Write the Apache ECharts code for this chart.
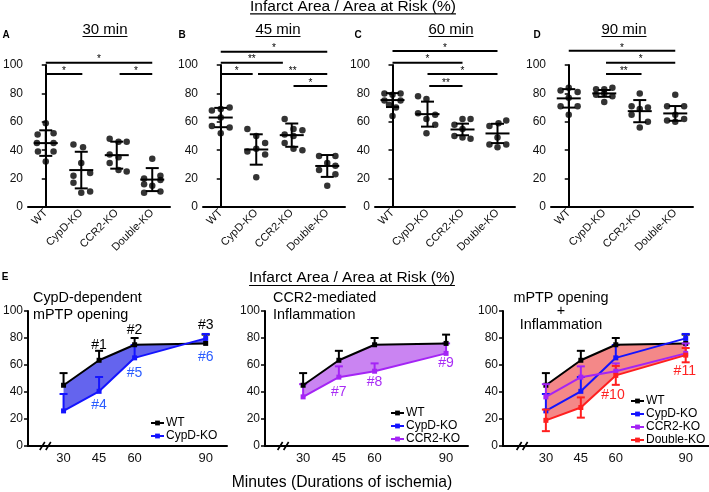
<!DOCTYPE html>
<html><head><meta charset="utf-8">
<script src="https://cdn.jsdelivr.net/npm/echarts@6/dist/echarts.min.js"></script>
<style>html,body{margin:0;padding:0;background:#fff}#c{width:709px;height:492px}</style>
</head><body><div id="c"></div>
<script>
const FONT = '"Liberation Sans", Arial, Helvetica, sans-serif';

// ---------- data ----------
const categories = ['WT', 'CypD-KO', 'CCR2-KO', 'Double-KO'];
const timeTitles = ['30 min', '45 min', '60 min', '90 min'];
const panelLetters = ['A', 'B', 'C', 'D'];

// individual animals: [group index + jitter, infarct %]
const dots30 = [
  [0,59],[-0.23,51],[0.22,52],[-0.25,45],[0.22,45],[-0.22,39],[0.22,39],[0,32],
  [0.78,44],[1.05,42],[1.0,31],[1.25,24],[0.78,22],[0.78,17],[1.0,10],[1.25,11],
  [1.8,48],[2.05,46],[2.28,46],[1.8,37],[2.05,35],[1.8,31],[2.05,26],[2.28,25],
  [3,34],[3.23,22],[2.77,20],[3.23,19],[2.77,16],[3.0,15],[3.23,11],[2.77,10]
];
const dots45 = [
  [-0.25,68],[0,69],[0.25,70],[0,63],[-0.25,57],[0.25,56],[0,52],
  [0.75,55],[1.0,50],[1.25,45],[1.0,41],[0.75,39],[1.25,37],[1.0,21],
  [1.8,62],[2.05,55],[2.3,54],[1.8,51],[2.05,50],[1.8,45],[2.05,41],[2.3,40],
  [2.77,36],[3.23,36],[3.0,31],[3.23,29],[2.77,26],[3.23,23],[3.0,15]
];
const dots60 = [
  [-0.23,80],[0,79],[0.23,80],[-0.23,75],[0.23,75],[-0.1,72],[0.1,70],[0,64],
  [0.73,78],[0.97,76],[0.73,66],[0.97,62],[1.22,65],[1.22,58],[0.97,52],
  [2,62],[2.23,62],[1.77,58],[2.0,55],[1.77,50],[2.0,49],[2.23,48],
  [3.25,61],[3.03,59],[2.77,57],[3.0,49],[2.77,44],[3.25,44],[3.0,42]
];
const dots90 = [
  [-0.23,82],[0,84],[0.25,81],[0,77],[-0.23,71],[0.25,71],[0,65],
  [0.77,83],[1.0,83],[1.23,84],[0.77,79],[1.0,80],[1.23,78],[1.0,74],
  [2,80],[1.77,71],[2.0,69],[2.23,70],[1.77,65],[2.23,60],[2.0,56],
  [3.0,79],[2.77,71],[3.25,71],[3.0,65],[2.77,61],[3.0,60],[3.25,62]
];
// group mean and SD
const mean30 = [45, 26, 36.5, 19.3], sd30 = [9, 12.9, 9.5, 8.1];
const mean45 = [63, 40.5, 50.6, 28.9], sd45 = [6.8, 10.7, 8.2, 7.7];
const mean60 = [75.3, 65.4, 54.6, 51.8], sd60 = [4.9, 8.8, 4.1, 6.8];
const mean90 = [76.5, 80, 67.5, 65.9], sd90 = [6.5, 2.4, 7.8, 5.2];
// significance bars: [from group, to group, y level, label]
const sig30 = [[0,3,101.6,'*'],[0,1.03,93.6,'*'],[2.08,3,93.6,'*']];
const sig45 = [[0,3,109.4,'*'],[0,1.75,101.6,'**'],[0,0.9,93.6,'*'],[1.05,3,93.6,'**'],[2.05,3,85.2,'*']];
const sig60 = [[0,3,109.9,'*'],[0,2,101.6,'*'],[1,3,93.6,'*'],[1.05,2,85.2,'**']];
const sig90 = [[0,3,110,'*'],[1.05,3,101.6,'*'],[1.05,2.05,93.6,'**']];

// time course (panel E)
const minutes = [30, 45, 60, 90];
const wtE = [45, 63.5, 75, 76],     wtSd = [9, 7, 5, 6.5];
const cypdE = [26, 40.5, 65.3, 79.7], cypdSd = [12.5, 10.6, 9.5, 3.3];
const ccr2E = [36.4, 51, 55.4, 68.6], ccr2Sd = [9.4, 8, 5.8, 7.4];
const dblE = [19, 28.5, 52.3, 67.3],  dblSd = [8, 7.5, 7, 5.3];
// "#n" annotations: [label, minute, value, series]
const hashE1 = [['#1',45,75,'WT'],['#2',60,86,'WT'],['#3',90,89.5,'WT'],['#4',45,30,'CypD'],['#5',60,54,'CypD'],['#6',90,65.5,'CypD']];
const hashE2 = [['#7',45,40,'CCR2'],['#8',60,47.5,'CCR2'],['#9',90,61.5,'CCR2']];
const hashE3 = [['#10',58.8,37.5,'Double'],['#11',89.6,55.4,'Double']];
const breakAt = [22.3, 21.6, 19.8];

// ---------- styling / layout ----------
const COL = {WT:'#000000', CypD:'#1414ff', CCR2:'#a424f5', Double:'#ff1f1f'};
const LBLCOL = {WT:'#000000', CypD:'#2a5cff', CCR2:'#a82cf5', Double:'#ff2222'};
const topLefts = [27, 203, 375, 551], topWidths = [143, 142, 140, 142];
const botLefts = [24, 265, 503], botWidths = [203, 203, 206];
const botMin = [15, 14, 11.6], botMax = [99, 99.2, 100];

const grids = [], xAxes = [], yAxes = [], series = [];
const yAxisStyle = (gi) => ({
  gridIndex: gi, type: 'value', min: 0, max: 100, interval: 20,
  axisLine: {show: true, lineStyle: {color: '#000', width: 2}},
  axisTick: {show: true, length: 4, lineStyle: {color: '#000', width: 1.5}},
  axisLabel: {fontSize: 12, color: '#111', margin: 5, fontFamily: FONT},
  splitLine: {show: false}
});

const dotsAll = [dots30, dots45, dots60, dots90];
const meansAll = [mean30, mean45, mean60, mean90];
const sdsAll = [sd30, sd45, sd60, sd90];
const sigAll = [sig30, sig45, sig60, sig90];

for (let i = 0; i < 4; i++) {
  grids.push({left: topLefts[i], top: 65, width: topWidths[i], height: 142});
  xAxes.push({gridIndex: i, type: 'category', data: categories,
    axisLine: {lineStyle: {color: '#000', width: 2}}, axisTick: {show: false},
    axisLabel: {rotate: 45, fontSize: 11, margin: 4, interval: 0, color: '#111', fontFamily: FONT}});
  xAxes.push({gridIndex: i, type: 'value', min: -0.5, max: 3.5, show: false});
  yAxes.push(yAxisStyle(i));
  const xa = 2 * i + 1;
  series.push({type: 'scatter', name: 'dots' + i, xAxisIndex: xa, yAxisIndex: i, data: dotsAll[i],
    symbol: 'circle', symbolSize: 6.5, itemStyle: {color: '#000'}, z: 2, silent: true});
  const means = meansAll[i], sds = sdsAll[i];
  series.push({type: 'custom', name: 'msd' + i, xAxisIndex: xa, yAxisIndex: i, z: 3, silent: true,
    data: means.map((m, k) => [k, m, sds[k]]),
    renderItem(params, api) {
      const x = api.value(0), m = api.value(1), s = api.value(2);
      const c = api.coord([x, m]), t = api.coord([x, m + s]), b = api.coord([x, m - s]);
      const st = {stroke: '#000', lineWidth: 2};
      return {type: 'group', children: [
        {type: 'line', shape: {x1: c[0] - 12, y1: c[1], x2: c[0] + 12, y2: c[1]}, style: st},
        {type: 'line', shape: {x1: t[0], y1: t[1], x2: b[0], y2: b[1]}, style: st},
        {type: 'line', shape: {x1: t[0] - 6.5, y1: t[1], x2: t[0] + 6.5, y2: t[1]}, style: st},
        {type: 'line', shape: {x1: b[0] - 6.5, y1: b[1], x2: b[0] + 6.5, y2: b[1]}, style: st}
      ]};
    }});
  const sig = sigAll[i];
  series.push({type: 'custom', name: 'sig' + i, xAxisIndex: xa, yAxisIndex: i, clip: false, silent: true, z: 3,
    data: sig.map(s => [s[0], s[2]]),
    renderItem(params, api) {
      const s = sig[params.dataIndex];
      const p1 = api.coord([s[0], s[2]]), p2 = api.coord([s[1], s[2]]);
      return {type: 'group', children: [
        {type: 'line', shape: {x1: p1[0], y1: p1[1], x2: p2[0], y2: p2[1]}, style: {stroke: '#000', lineWidth: 2}},
        {type: 'text', x: (p1[0] + p2[0]) / 2, y: p1[1] - 3,
          style: {text: s[3], font: '10px ' + FONT, fill: '#000', align: 'center', verticalAlign: 'middle', textAlign: 'center', textVerticalAlign: 'middle'}}
      ]};
    }});
}

// bottom panels
const lineDefs = {
  WT: {name: 'WT', vals: wtE, sd: wtSd, both: false},
  CypD: {name: 'CypD-KO', vals: cypdE, sd: cypdSd, both: false},
  CCR2: {name: 'CCR2-KO', vals: ccr2E, sd: ccr2Sd, both: false},
  Double: {name: 'Double-KO', vals: dblE, sd: dblSd, both: true}
};
const panelsE = [
  {lines: ['WT', 'CypD'], fill: ['WT', 'CypD', 'rgb(100,100,238)'], hash: hashE1},
  {lines: ['WT', 'CCR2'], fill: ['WT', 'CCR2', 'rgb(202,132,242)'], hash: hashE2},
  {lines: ['WT', 'CypD', 'CCR2', 'Double'], fill: ['WT', 'Double', 'rgb(244,136,136)'], hash: hashE3}
];
panelsE.forEach((p, j) => {
  const gi = 4 + j, xa = 8 + j;
  grids.push({left: botLefts[j], top: 311, width: botWidths[j], height: 135});
  xAxes.push({gridIndex: gi, type: 'value', min: botMin[j], max: botMax[j],
    axisLine: {onZero: false, lineStyle: {color: '#000', width: 2}}, axisTick: {show: false}, splitLine: {show: false},
    axisLabel: {customValues: minutes, fontSize: 13, margin: 6, color: '#111', fontFamily: FONT}});
  yAxes.push(yAxisStyle(gi));
  const up = lineDefs[p.fill[0]].vals, lo = lineDefs[p.fill[1]].vals;
  series.push({type: 'custom', name: 'fill' + j, xAxisIndex: xa, yAxisIndex: gi, z: 1, silent: true,
    data: minutes.map((m, k) => [m, up[k]]),
    renderItem(params, api) {
      if (params.dataIndex !== 0) return null;
      const pts = [];
      minutes.forEach((m, k) => pts.push(api.coord([m, up[k]])));
      for (let k = minutes.length - 1; k >= 0; k--) pts.push(api.coord([minutes[k], lo[k]]));
      return {type: 'polygon', shape: {points: pts}, style: {fill: p.fill[2]}};
    }});
  p.lines.forEach((key, li) => {
    const d = lineDefs[key], col = COL[key];
    series.push({type: 'custom', name: 'err' + j + key, xAxisIndex: xa, yAxisIndex: gi, z: 3 + li, silent: true,
      data: minutes.map((m, k) => [m, d.vals[k], d.sd[k]]),
      renderItem(params, api) {
        const x = api.value(0), v = api.value(1), s = api.value(2);
        const t = api.coord([x, v + s]), b = api.coord([x, d.both ? v - s : v]);
        const st = {stroke: col, lineWidth: 2};
        const ch = [
          {type: 'line', shape: {x1: t[0], y1: t[1], x2: b[0], y2: b[1]}, style: st},
          {type: 'line', shape: {x1: t[0] - 4, y1: t[1], x2: t[0] + 4, y2: t[1]}, style: st}
        ];
        if (d.both) ch.push({type: 'line', shape: {x1: b[0] - 4, y1: b[1], x2: b[0] + 4, y2: b[1]}, style: st});
        return {type: 'group', children: ch};
      }});
    series.push({type: 'line', name: d.name, xAxisIndex: xa, yAxisIndex: gi, z: 4 + li, silent: true,
      data: minutes.map((m, k) => [m, d.vals[k]]),
      symbol: 'rect', symbolSize: 5, showSymbol: true,
      lineStyle: {color: col, width: 2}, itemStyle: {color: col}});
  });
  const hs = p.hash;
  series.push({type: 'custom', name: 'hash' + j, xAxisIndex: xa, yAxisIndex: gi, z: 10, silent: true, clip: false,
    data: hs.map(h => [h[1], h[2]]),
    renderItem(params, api) {
      const h = hs[params.dataIndex];
      const c = api.coord([h[1], h[2]]);
      return {type: 'text', x: c[0], y: c[1],
        style: {text: h[0], font: '14px ' + FONT, fill: LBLCOL[h[3]], align: 'center', verticalAlign: 'middle', textAlign: 'center', textVerticalAlign: 'middle'}};
    }});
  series.push({type: 'custom', name: 'brk' + j, xAxisIndex: xa, yAxisIndex: gi, z: 10, silent: true, clip: false,
    data: [[breakAt[j], 0]],
    renderItem(params, api) {
      const c = api.coord([api.value(0), 0]);
      const st = {stroke: '#000', lineWidth: 1.6};
      return {type: 'group', children: [
        {type: 'line', shape: {x1: c[0] - 5.5, y1: c[1] + 4, x2: c[0] - 0.5, y2: c[1] - 4}, style: st},
        {type: 'line', shape: {x1: c[0] + 0.5, y1: c[1] + 4, x2: c[0] + 5.5, y2: c[1] - 4}, style: st}
      ]};
    }});
});

const legendBase = {orient: 'vertical', itemGap: 1, itemWidth: 13, itemHeight: 6, selectedMode: false,
  textStyle: {fontSize: 12, color: '#000', fontFamily: FONT, padding: [0, 0, 0, -3]}};
const legends = [
  Object.assign({}, legendBase, {data: ['WT', 'CypD-KO'], left: 145, top: 412}),
  Object.assign({}, legendBase, {data: ['WT', 'CypD-KO', 'CCR2-KO'], left: 385, top: 402}),
  Object.assign({}, legendBase, {data: ['WT', 'CypD-KO', 'CCR2-KO', 'Double-KO'], left: 625, top: 390})
];

// ---------- text decorations ----------
const mctx = document.createElement('canvas').getContext('2d');
function tw(text, font) { mctx.font = font; return mctx.measureText(text).width; }
function txt(text, x, y, size, opts) {
  opts = opts || {};
  const font = (opts.bold ? 'bold ' : '') + size + 'px ' + FONT;
  return {type: 'text', x: x, y: y, style: {text: text, font: font, fill: '#000',
    align: opts.align || 'center', verticalAlign: 'middle', textAlign: opts.align || 'center', textVerticalAlign: 'middle'}};
}
function uTitle(text, cx, cy, size, uy) {
  const w = tw(text, size + 'px ' + FONT);
  return [txt(text, cx, cy, size),
    {type: 'line', shape: {x1: cx - w / 2, y1: uy, x2: cx + w / 2, y2: uy}, style: {stroke: '#000', lineWidth: 1.2}}];
}
const graphics = [];
graphics.push(...uTitle('Infarct Area / Area at Risk (%)', 353, 6.5, 15.5, 13.8));
graphics.push(...uTitle('Infarct Area / Area at Risk (%)', 352, 277.5, 15.5, 285.5));
const titleCx = [105, 278, 451, 624];
timeTitles.forEach((t, i) => graphics.push(...uTitle(t, titleCx[i], 30, 15, 36.5)));
const letterX = [6, 182, 358, 537];
panelLetters.forEach((l, i) => graphics.push(txt(l, letterX[i], 35, 10, {bold: true})));
graphics.push(txt('E', 5, 277, 10, {bold: true}));
graphics.push(txt('CypD-dependent', 33, 298, 14.4, {align: 'left'}));
graphics.push(txt('mPTP opening', 33, 315, 14.4, {align: 'left'}));
graphics.push(txt('CCR2-mediated', 273, 298, 14.4, {align: 'left'}));
graphics.push(txt('Inflammation', 273, 315, 14.4, {align: 'left'}));
graphics.push(txt('mPTP opening', 561, 298, 14.4));
graphics.push(txt('+', 561, 311, 14.4));
graphics.push(txt('Inflammation', 561, 325, 14.4));
graphics.push(txt('Minutes (Durations of ischemia)', 342, 483, 15.7));

const chart = echarts.init(document.getElementById('c'), null, {renderer: 'canvas'});
chart.setOption({
  animation: false,
  textStyle: {fontFamily: FONT},
  grid: grids, xAxis: xAxes, yAxis: yAxes, series: series,
  legend: legends,
  graphic: graphics
});
</script></body></html>
